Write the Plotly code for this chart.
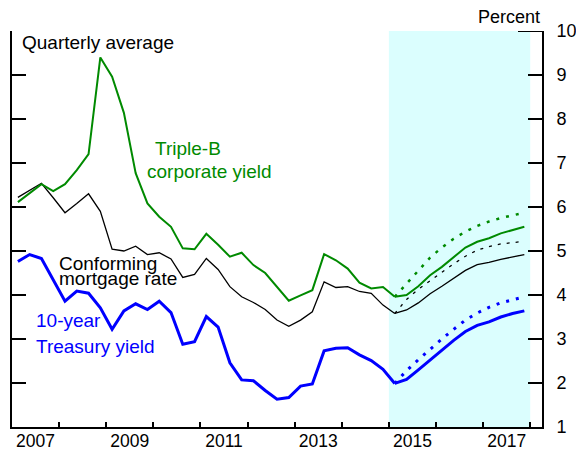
import plotly.graph_objects as go

# quarterly history, 2007Q1 .. 2015Q1
hist_quarters = [f"{y}Q{q}" for y in range(2007, 2016) for q in range(1, 5)][:33]
# projections, 2015Q1 .. 2017Q4
proj_quarters = [f"{y}Q{q}" for y in range(2015, 2018) for q in range(1, 5)]

triple_b = [6.11, 6.32, 6.52, 6.36, 6.52, 6.84, 7.20, 9.40, 8.96, 8.14, 6.77,
            6.08, 5.78, 5.55, 5.06, 5.04, 5.39, 5.14, 4.87, 4.96, 4.68, 4.50,
            4.18, 3.87, 3.99, 4.11, 4.93, 4.79, 4.60, 4.28, 4.15, 4.18, 3.96]
mortgage = [6.22, 6.38, 6.54, 6.21, 5.87, 6.08, 6.30, 5.90, 5.04, 5.00, 5.11,
            4.92, 4.96, 4.82, 4.40, 4.47, 4.83, 4.58, 4.19, 3.96, 3.83, 3.67,
            3.43, 3.29, 3.43, 3.62, 4.30, 4.17, 4.19, 4.08, 4.04, 3.77, 3.58]
treasury = [4.76, 4.92, 4.83, 4.35, 3.86, 4.09, 4.04, 3.71, 3.22, 3.64, 3.80,
            3.67, 3.86, 3.60, 2.88, 2.94, 3.51, 3.27, 2.46, 2.07, 2.05, 1.83,
            1.63, 1.67, 1.93, 1.98, 2.73, 2.79, 2.80, 2.64, 2.51, 2.31, 1.99]

# projections: solid and dotted paths
triple_b_proj = [3.96, 4.00, 4.20, 4.45, 4.64, 4.87, 5.08, 5.21, 5.29, 5.40, 5.48, 5.55]
triple_b_alt = [3.96, 4.25, 4.55, 4.85, 5.08, 5.28, 5.44, 5.57, 5.67, 5.75, 5.81, 5.87]
mortgage_proj = [3.58, 3.66, 3.82, 4.03, 4.20, 4.38, 4.56, 4.69, 4.74, 4.81, 4.87, 4.92]
mortgage_alt = [3.58, 3.90, 4.13, 4.33, 4.52, 4.71, 4.88, 5.02, 5.10, 5.16, 5.19, 5.22]
treasury_proj = [1.99, 2.08, 2.30, 2.53, 2.74, 2.97, 3.17, 3.31, 3.39, 3.50, 3.58, 3.64]
treasury_alt = [1.99, 2.28, 2.53, 2.77, 3.00, 3.22, 3.43, 3.59, 3.72, 3.82, 3.89, 3.96]

year_labels = ["2007", "2009", "2011", "2013", "2015", "2017"]
year_ticks = list(range(2008, 2019))
y_ticks = [1, 2, 3, 4, 5, 6, 7, 8, 9, 10]


def qpos(lbl):
    # quarter label -> fractional year at mid-quarter
    y, q = lbl.split("Q")
    return int(y) + (int(q) - 0.5) / 4


xh = [qpos(q) for q in hist_quarters]
xp = [qpos(q) for q in proj_quarters]

GREEN = "#008a00"
BLUE = "#0000ff"
FONT = "Liberation Sans, Arial, sans-serif"
FS = 19

fig = go.Figure()
fig.add_vrect(x0=2015, x1=2018, fillcolor="#dbfefe", line_width=0, layer="below")

fig.add_trace(go.Scatter(x=xh, y=mortgage, mode="lines", line=dict(color="black", width=1.3)))
fig.add_trace(go.Scatter(x=xp, y=mortgage_proj, mode="lines", line=dict(color="black", width=1.3)))
fig.add_trace(go.Scatter(x=xp, y=mortgage_alt, mode="lines",
                         line=dict(color="black", width=1.3, dash="3px,6px")))
fig.add_trace(go.Scatter(x=xh, y=triple_b, mode="lines", line=dict(color=GREEN, width=2)))
fig.add_trace(go.Scatter(x=xp, y=triple_b_proj, mode="lines", line=dict(color=GREEN, width=2)))
fig.add_trace(go.Scatter(x=xp, y=triple_b_alt, mode="lines",
                         line=dict(color=GREEN, width=2.5, dash="3px,7px")))
fig.add_trace(go.Scatter(x=xh, y=treasury, mode="lines", line=dict(color=BLUE, width=3)))
fig.add_trace(go.Scatter(x=xp, y=treasury_proj, mode="lines", line=dict(color=BLUE, width=3)))
fig.add_trace(go.Scatter(x=xp, y=treasury_alt, mode="lines",
                         line=dict(color=BLUE, width=3, dash="3px,7px")))

# longer tick at top right
fig.add_shape(type="line", xref="paper", yref="y", x0=(518 - 12) / 530, x1=1, y0=10, y1=10,
              line=dict(color="black", width=2))


def note(text, x, y, color, anchor="left"):
    fig.add_annotation(text=text, x=x, y=y, xanchor=anchor, yanchor="middle", showarrow=False,
                       borderpad=0, font=dict(color=color, size=FS, family=FONT))


note("Quarterly average", 2007.2, 9.73, "black")
note("Triple-B", 2010.02, 7.34, GREEN)
note("corporate yield", 2009.84, 6.80, GREEN)
note("Conforming", 2007.98, 4.72, "black")
note("mortgage rate", 2007.98, 4.38, "black")
note("10-year", 2007.48, 3.43, BLUE)
note("Treasury yield", 2007.48, 2.82, BLUE)
fig.add_annotation(text="Percent", xref="paper", yref="paper", x=1.0, y=1.035, xanchor="right",
                   yanchor="middle", showarrow=False, font=dict(color="black", size=18, family=FONT))

fig.update_layout(
    width=576, height=452,
    margin=dict(l=12, r=34, t=31, b=25, autoexpand=False),
    plot_bgcolor="white", paper_bgcolor="white",
    showlegend=False,
    font=dict(family=FONT, size=18, color="black"),
    xaxis=dict(range=[2007, 2018.25], showgrid=False, zeroline=False, automargin=False,
               showline=True, linecolor="black", linewidth=2,
               tickmode="array", tickvals=year_ticks, ticktext=[""] * len(year_ticks),
               ticks="inside", ticklen=5, tickcolor="black", tickwidth=1.5),
    xaxis2=dict(range=[2007, 2018.25], overlaying="x", anchor="y", side="bottom",
                showgrid=False, zeroline=False, showline=False, automargin=False,
                tickmode="array", tickvals=[int(y) + 0.5 for y in year_labels], ticktext=year_labels,
                ticks="", ticklabelstandoff=1, tickfont=dict(size=17.5)),
    yaxis=dict(range=[1, 10], side="right", showgrid=False, zeroline=False, automargin=False,
               showline=True, linecolor="black", linewidth=2, mirror="ticks",
               tickmode="array", tickvals=y_ticks,
               ticks="inside", ticklen=14, tickwidth=2, tickcolor="black",
               ticklabelstandoff=9),
)
# invisible trace so the label axis is drawn
fig.add_trace(go.Scatter(x=[2007], y=[1], xaxis="x2", mode="markers", marker=dict(opacity=0),
                         hoverinfo="skip"))

fig.write_html("out.html", config={"displayModeBar": False},
               post_script="document.body.style.margin='0';")
